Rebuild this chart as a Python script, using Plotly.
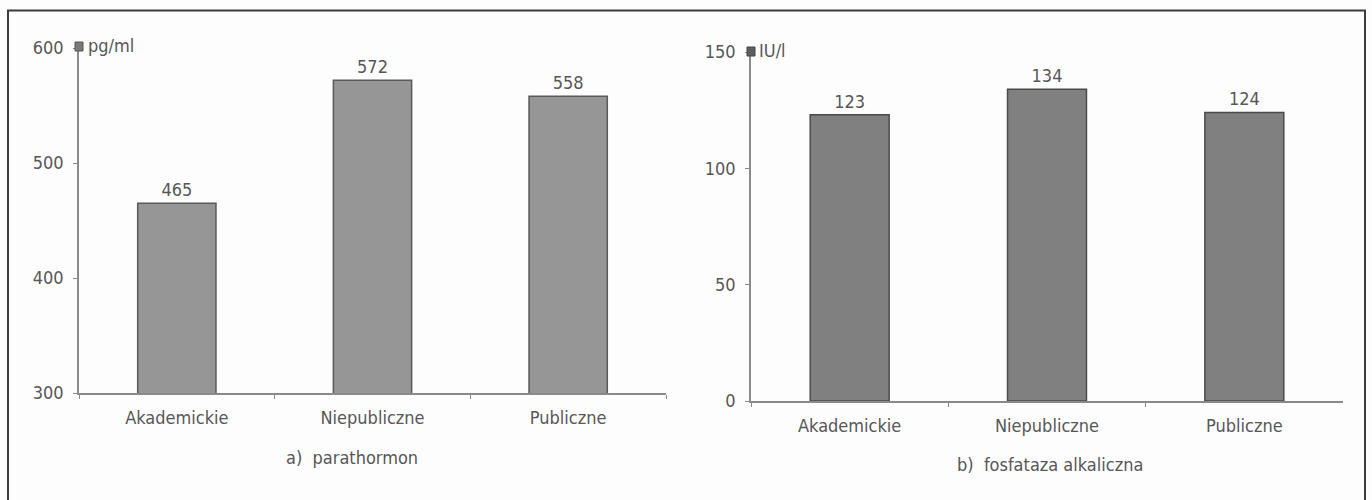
import plotly.graph_objects as go
from plotly.subplots import make_subplots

categories = ["Akademickie", "Niepubliczne", "Publiczne"]
pth_values = [465, 572, 558]
alp_values = [123, 134, 124]
pth_ticks = [300, 400, 500, 600]
alp_ticks = [0, 50, 100, 150]
pth_unit = "pg/ml"
alp_unit = "IU/l"
pth_title = "a)  parathormon"
alp_title = "b)  fosfataza alkaliczna"

W, H = 1372, 500


def px_x(v):
    return v / W


def px_y(v):
    return (H - v) / H


fig = make_subplots(rows=1, cols=2)

font_main = dict(family="DejaVu Sans Condensed, DejaVu Sans, sans-serif", size=18, color="#575757")

fig.add_trace(go.Bar(
    x=categories, y=pth_values, width=0.4,
    marker=dict(color="#969696", line=dict(color="#5a5a5a", width=1.5)),
    text=[str(v) for v in pth_values], textposition="outside", cliponaxis=False,
    textfont=font_main, showlegend=False,
), row=1, col=1)

fig.add_trace(go.Bar(
    x=categories, y=alp_values, width=0.4,
    marker=dict(color="#808080", line=dict(color="#4a4a4a", width=1.5)),
    text=[str(v) for v in alp_values], textposition="outside", cliponaxis=False,
    textfont=font_main, showlegend=False,
), row=1, col=2)

axis_common = dict(showline=True, linecolor="#8a8a8a", linewidth=1.5, showgrid=False,
                   zeroline=False, ticks="outside", ticklen=4, tickcolor="#8a8a8a",
                   tickfont=font_main, automargin=False)

fig.update_xaxes(axis_common, tickson="boundaries", range=[-0.5, 2.5], ticklabelstandoff=8)
fig.update_xaxes(domain=[px_x(79), px_x(666)], row=1, col=1)
fig.update_xaxes(domain=[px_x(751), px_x(1343)], row=1, col=2)

fig.update_yaxes(axis_common, tickmode="array", ticklabelstandoff=6)
fig.update_yaxes(domain=[px_y(393), px_y(48)], range=[300, 600], tickvals=pth_ticks, row=1, col=1)
fig.update_yaxes(domain=[px_y(401), px_y(52)], range=[0, 150], tickvals=alp_ticks, row=1, col=2)

shapes = [
    # outer frame
    dict(type="rect", xref="paper", yref="paper", x0=px_x(8), x1=px_x(1365), y0=-0.02, y1=px_y(10.5),
         line=dict(color="#3c3c3c", width=2), fillcolor="rgba(0,0,0,0)", layer="below"),
    # unit keys at the top of each value axis
    dict(type="rect", xref="paper", yref="paper", x0=px_x(75), x1=px_x(83), y0=px_y(51), y1=px_y(42),
         line=dict(color="#555555", width=1), fillcolor="#7a7a7a"),
    dict(type="rect", xref="paper", yref="paper", x0=px_x(747), x1=px_x(755), y0=px_y(56), y1=px_y(47),
         line=dict(color="#444444", width=1), fillcolor="#5e5e5e"),
]

annotations = [
    dict(text=pth_unit, xref="paper", yref="paper", x=px_x(86), y=px_y(46), xanchor="left",
         yanchor="middle", showarrow=False, font=font_main),
    dict(text=alp_unit, xref="paper", yref="paper", x=px_x(757), y=px_y(51), xanchor="left",
         yanchor="middle", showarrow=False, font=font_main),
    dict(text=pth_title, xref="paper", yref="paper", x=px_x(352), y=px_y(457), xanchor="center",
         yanchor="middle", showarrow=False, font=font_main),
    dict(text=alp_title, xref="paper", yref="paper", x=px_x(1050), y=px_y(465), xanchor="center",
         yanchor="middle", showarrow=False, font=font_main),
]

fig.update_layout(
    width=W, height=H, margin=dict(l=0, r=0, t=0, b=0, autoexpand=False),
    paper_bgcolor="#fdfdfd", plot_bgcolor="#fdfdfd",
    shapes=shapes, annotations=annotations, bargap=0.6,
)

fig.write_html("out.html")
